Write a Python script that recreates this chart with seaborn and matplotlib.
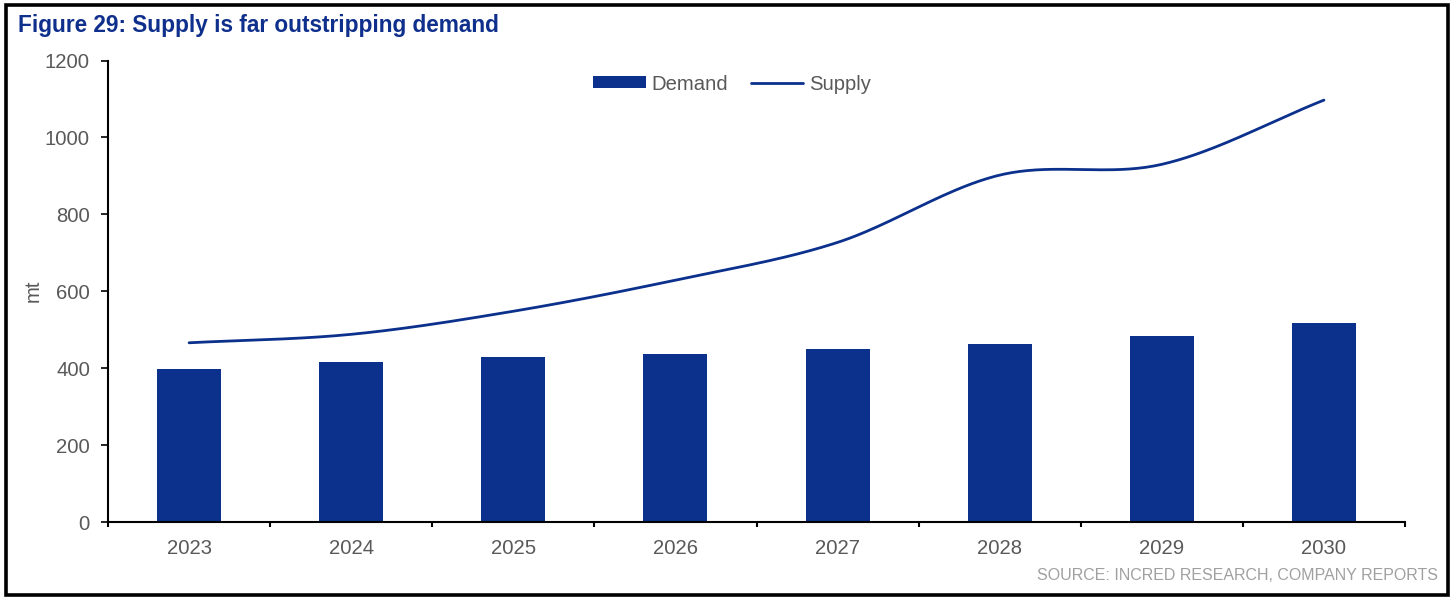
import numpy as np
import pandas as pd
import matplotlib
matplotlib.use("Agg")
import matplotlib.pyplot as plt
from matplotlib.patches import Rectangle
from matplotlib.lines import Line2D
import seaborn as sns

# Data (million tonnes)
years = ["2023", "2024", "2025", "2026", "2027", "2028", "2029", "2030"]
demand = [397, 415, 429, 438, 449, 463, 484, 517]
supply = [466, 488, 548, 629, 727, 902, 930, 1097]
y_ticks = [0, 200, 400, 600, 800, 1000, 1200]

TITLE = "Figure 29: Supply is far outstripping demand"
SOURCE = "SOURCE: INCRED RESEARCH, COMPANY REPORTS"

NAVY = "#0B318D"
TITLE_BLUE = "#0F2F8C"
GREY = "#595959"
FS = 14.6

sns.set_theme(style="white")
plt.rcParams["font.family"] = ["Liberation Sans", "DejaVu Sans"]


def smooth_curve(xs, ys, n=40):
    """Catmull-Rom spline through the points, like a smoothed office chart line."""
    xs = np.asarray(xs, float)
    ys = np.asarray(ys, float)
    px = np.concatenate([[2 * xs[0] - xs[1]], xs, [2 * xs[-1] - xs[-2]]])
    py = np.concatenate([[2 * ys[0] - ys[1]], ys, [2 * ys[-1] - ys[-2]]])
    out_x, out_y = [], []
    for i in range(1, len(px) - 2):
        t = np.linspace(0, 1, n, endpoint=False)
        for p, out in ((px, out_x), (py, out_y)):
            p0, p1, p2, p3 = p[i - 1], p[i], p[i + 1], p[i + 2]
            out.extend(0.5 * ((2 * p1) + (-p0 + p2) * t
                              + (2 * p0 - 5 * p1 + 4 * p2 - p3) * t ** 2
                              + (-p0 + 3 * p1 - 3 * p2 + p3) * t ** 3))
    out_x.append(xs[-1])
    out_y.append(ys[-1])
    return np.array(out_x), np.array(out_y)


W, H = 1455, 599
fig = plt.figure(figsize=(W / 100, H / 100), dpi=100)
ax = fig.add_axes([108 / W, 1 - 522 / H, (1405 - 108) / W, (522 - 60.5) / H])

df = pd.DataFrame({"year": years, "demand": demand, "supply": supply})
sns.barplot(data=df, x="year", y="demand", color=NAVY, saturation=1,
            width=0.395, ax=ax, edgecolor="none")

pos = np.arange(len(years))
sx, sy = smooth_curve(pos, supply)
sns.lineplot(x=sx, y=sy, sort=False, color=NAVY, linewidth=2.0, ax=ax)

ax.set_xlim(-0.5, len(years) - 0.5)
ax.set_ylim(0, 1200)
ax.set_yticks(y_ticks)
ax.set_yticklabels([str(v) for v in y_ticks], color=GREY, fontsize=FS)
ax.set_xticks(pos)
ax.set_xticklabels(years, color=GREY, fontsize=FS)
ax.tick_params(axis="x", length=0, pad=12.5)
ax.tick_params(axis="y", left=True, length=5, width=1.2, color="black", pad=8)
# separators between categories on the x axis
for b in np.arange(-0.5, len(years), 1.0):
    ax.plot([b, b], [0, -0.011], transform=ax.get_xaxis_transform(),
            color="black", lw=1.5, clip_on=False, solid_capstyle="butt")
ax.set_xlabel("")
ax.set_ylabel("mt", color=GREY, fontsize=FS)
ax.yaxis.set_label_coords((43 - 108) / (1405 - 108), 0.5)
for side in ("top", "right"):
    ax.spines[side].set_visible(False)
for side in ("left", "bottom"):
    ax.spines[side].set_color("black")
    ax.spines[side].set_linewidth(1.5)
ax.grid(False)

handles = [Rectangle((0, 0), 1, 1, facecolor=NAVY, edgecolor="none"),
           Line2D([0], [0], color=NAVY, lw=2.0)]
fig.legend(handles, ["Demand", "Supply"], loc="center",
           bbox_to_anchor=(732 / W, 1 - 84 / H), ncol=2, frameon=False,
           fontsize=FS, labelcolor=GREY, handlelength=2.6, handleheight=0.55,
           handletextpad=0.3, columnspacing=1.1)

fig.text(18 / W, 1 - 32 / H, TITLE, color=TITLE_BLUE, fontsize=16.3,
         fontweight="bold", ha="left", va="baseline")
fig.text(1438 / W, 1 - 579.5 / H, SOURCE, color="#A0A0A0", fontsize=11.5,
         ha="right", va="baseline")

# outer frame
fig.add_artist(Rectangle((5.5 / W, 4.5 / H), (1447.5 - 5.5) / W, (594.5 - 4.5) / H,
                         transform=fig.transFigure, fill=False,
                         edgecolor="black", linewidth=2.6))

fig.savefig("out.png", dpi=100)
